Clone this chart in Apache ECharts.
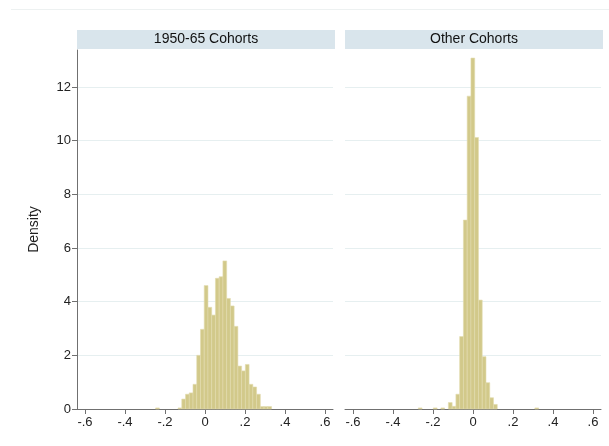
<!DOCTYPE html>
<html><head><meta charset="utf-8">
<script src="https://cdn.jsdelivr.net/npm/echarts@6/dist/echarts.min.js"></script>
<style>html,body{margin:0;padding:0;background:#fff}#c{width:609px;height:446px}</style>
</head><body><div id="c"></div>
<script>
const panelTitles = ['1950-65 Cohorts', 'Other Cohorts'];
const yAxisTitle = 'Density';

const leftBinStart = -0.247;
const leftBinWidth = 0.0187;
const leftDensity = [0.04, 0, 0, 0, 0, 0, 0.04, 0.37, 0.55, 0.60, 0.92, 2.00, 2.97, 4.60, 3.79, 3.50,
  4.87, 4.93, 5.52, 4.12, 3.84, 3.08, 1.60, 1.42, 1.66, 0.92, 0.82, 0.55, 0.09, 0.09, 0.09];

const rightBinStart = -0.2735;
const rightBinWidth = 0.0188;
const rightDensity = [0.04, 0, 0, 0, 0.04, 0, 0.04, 0, 0.24, 0.10, 0.55, 2.70, 7.04, 11.66, 13.08, 10.12,
  4.06, 1.95, 0.98, 0.42, 0.17, 0, 0, 0, 0, 0, 0, 0, 0, 0, 0, 0.04];

const xTicks = [-0.6, -0.4, -0.2, 0, 0.2, 0.4, 0.6];
const xTickLabels = ['-.6', '-.4', '-.2', '0', '.2', '.4', '.6'];
const yTicks = [0, 2, 4, 6, 8, 10, 12];
const yTickLabels = ['0', '2', '4', '6', '8', '10', '12'];

const FONT = "'Liberation Sans', Arial, sans-serif";
const AXIS_COLOR = '#707070';
const GRID_COLOR = '#e6eff0';
const BAR_FILL = '#d2c98a';
const BAR_STROKE = '#e2dbae';
const HEADER_FILL = '#d9e5ec';

function bins(start, width, dens) {
  return dens.map((d, i) => [start + i * width, start + (i + 1) * width, d]);
}
function lookup(ticks, labels, v) {
  for (let i = 0; i < ticks.length; i++) if (Math.abs(ticks[i] - v) < 1e-9) return labels[i];
  return '';
}
function renderItem(params, api) {
  const d = api.value(2);
  if (!d) return null;
  const p0 = api.coord([api.value(0), d]);
  const p1 = api.coord([api.value(1), 0]);
  return {
    type: 'rect',
    shape: { x: p0[0], y: p0[1], width: p1[0] - p0[0], height: p1[1] - p0[1] },
    style: { fill: BAR_FILL, stroke: BAR_STROKE, lineWidth: 0.6 }
  };
}

const grids = [
  { left: 77, width: 256, top: 50, height: 359 },
  { left: 345, width: 256, top: 50, height: 359 }
];

function xAxis(i) {
  return {
    type: 'value', gridIndex: i, min: -0.64, max: 0.64,
    axisLine: { show: true, onZero: false, lineStyle: { color: AXIS_COLOR, width: 1 } },
    axisTick: { show: true, customValues: xTicks, length: 5, lineStyle: { color: AXIS_COLOR } },
    axisLabel: { customValues: xTicks, formatter: v => lookup(xTicks, xTickLabels, v),
      color: '#222', fontFamily: FONT, fontSize: 13, margin: 7 },
    splitLine: { show: false }
  };
}
function yAxis(i) {
  const first = i === 0;
  return {
    type: 'value', gridIndex: i, min: 0, max: 13.38,
    name: first ? yAxisTitle : '', nameLocation: 'middle', nameGap: 36,
    nameTextStyle: { color: '#222', fontFamily: FONT, fontSize: 14 },
    axisLine: { show: first, onZero: false, lineStyle: { color: AXIS_COLOR, width: 1 } },
    axisTick: { show: first, customValues: yTicks, length: 5, lineStyle: { color: AXIS_COLOR } },
    axisLabel: { show: first, customValues: yTicks, formatter: v => lookup(yTicks, yTickLabels, v),
      color: '#222', fontFamily: FONT, fontSize: 13, margin: 6 },
    splitLine: { show: true, lineStyle: { color: GRID_COLOR, width: 1 } }
  };
}

const headerGraphics = [];
panelTitles.forEach((t, i) => {
  const g = grids[i];
  headerGraphics.push({
    type: 'rect', shape: { x: g.left, y: 30, width: 258, height: 19 },
    style: { fill: HEADER_FILL }, silent: true
  });
  headerGraphics.push({
    type: 'text', x: g.left + 129, y: 39.5,
    style: { text: t, fill: '#111', font: "14px " + FONT, textAlign: 'center', textVerticalAlign: 'middle' },
    silent: true
  });
});
headerGraphics.push({
  type: 'line', shape: { x1: 11, y1: 9.5, x2: 609, y2: 9.5 },
  style: { stroke: '#edf1f1', lineWidth: 1 }, silent: true
});

const chart = echarts.init(document.getElementById('c'), null, { renderer: 'canvas' });
chart.setOption({
  backgroundColor: '#fff',
  animation: false,
  grid: grids,
  xAxis: [xAxis(0), xAxis(1)],
  yAxis: [yAxis(0), yAxis(1)],
  graphic: headerGraphics,
  series: [
    { type: 'custom', xAxisIndex: 0, yAxisIndex: 0, renderItem, encode: { x: [0, 1], y: 2 },
      data: bins(leftBinStart, leftBinWidth, leftDensity) },
    { type: 'custom', xAxisIndex: 1, yAxisIndex: 1, renderItem, encode: { x: [0, 1], y: 2 },
      data: bins(rightBinStart, rightBinWidth, rightDensity) }
  ]
});
</script>
</body></html>
